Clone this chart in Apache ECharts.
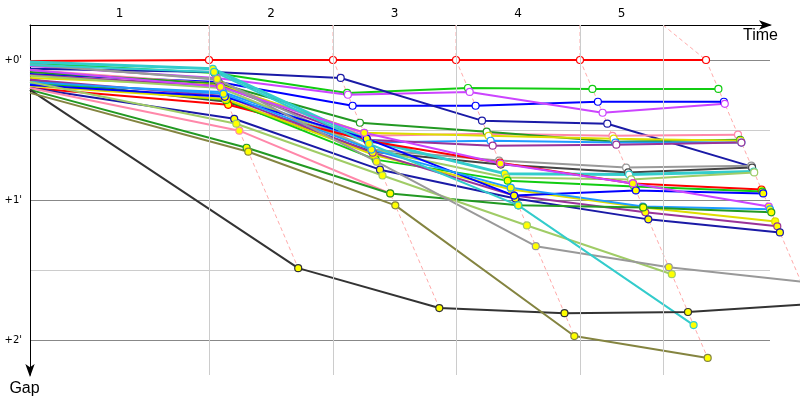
<!DOCTYPE html>
<html><head><meta charset="utf-8">
<script src="https://cdn.jsdelivr.net/npm/echarts@6/dist/echarts.min.js"></script>
<style>html,body{margin:0;padding:0;background:#fff}#c{width:800px;height:400px}</style>
</head><body><div id="c"></div>
<script>
// Lap labels and timing (seconds from start)
const lapLabels = ['1', '2', '3', '4', '5'];
const leaderLapTimes = [179, 303, 426, 550, 676];
const lapLineTops = [179, 303, 426, 550, 633];
const gapTickValues = [0, 60, 120];

// Car line colours
const carColors = [
  '#ff0000', '#11cc11', '#0000ff', '#cc44ff', '#1a1aa6', '#ff88aa', '#229922', '#dddd00',
  '#1e9bff', '#993399', '#999999', '#444444', '#33cccc', '#a0cc66', '#ff0000', '#11cc11',
  '#dddd00', '#993399', '#1a1aa6', '#0000ff', '#cc44ff', '#1e9bff', '#ff88aa', '#229922',
  '#a0cc66', '#999999', '#33cccc', '#333333', '#848440'
];

// Gap to leader (seconds) at start and after each lap
const gapStart = [0.4, 1.3, 6.0, 2.6, 3.8, 4.3, 5.1, 7.7, 10.2, 6.4, 1.7, 8.5, 0.9, 6.8, 12.0, 9.4, 11.1, 8.5, 12.0, 10.7, 4.3, 9.4, 12.0, 12.8, 9.4, 2.1, 2.1, 12.8, 14.1];
const gapLap1  = [0, 5.6, 9.4, 7.7, 5.1, 10.2, 10.2, 10.7, 13.7, 11.1, 8.5, 17.9, 3.8, 12.0, 19.2, 17.1, 16.7, 15.4, 25.2, 15.8, 11.5, 14.5, 30.3, 37.6, 27.3, 8.1, 5.1, 89.2, 39.3];
const gapLap2  = [0, 14.1, 19.6, 14.9, 7.7, 32.5, 26.9, 31.2, 35.4, 34.2, 38.4, 39.3, 34.2, 38.4, 34.6, 42.7, 40.6, 39.7, 47.0, 33.7, 31.2, 38.4, 57.2, 57.2, 49.5, 43.6, 35.9, 106.3, 62.3];
const gapLap3  = [0, 12.0, 19.6, 13.7, 26.0, 31.6, 30.7, 32.5, 34.6, 36.7, 43.1, 44.8, 48.7, 50.4, 44.0, 51.7, 55.5, 58.1, 59.4, 58.1, 44.4, 54.7, null, 62.3, 70.9, 79.8, 62.3, 108.5, 118.3];
const gapLap4  = [0, 12.4, 17.9, 22.6, 27.3, 32.5, 35.0, 33.7, 35.4, 36.3, 46.1, 48.2, 49.1, 51.2, 52.9, 54.2, 63.2, 65.3, 68.3, 55.9, 52.9, 62.8, null, 63.2, 91.8, 88.8, 113.6, 108.0, 127.7];
const gapLap5  = [0, 12.4, 17.9, 18.8, 45.7, 32.0, 34.2, 34.6, 35.4, 35.4, 45.3, 46.1, 47.8, 48.2, 55.5, 56.4, 69.2, 71.3, 73.9, 57.2, 62.8, 64.0, null, 65.3, null, 95.0, null, 104.6, null];

// how many leading cars get an open (white) marker on each lap
const openMarkersPerLap = [1, 6, 11, 14, 14];

const lapGaps = [gapLap1, gapLap2, gapLap3, gapLap4, gapLap5];
const lapMid = lapLineTops.map((t, k) => ((k === 0 ? 0 : lapLineTops[k - 1]) + t) / 2);

const openSets = lapGaps.map((arr, k) => new Set(
  arr.map((g, i) => [g, i]).filter(p => p[0] != null)
     .sort((a, b) => a[0] - b[0]).slice(0, openMarkersPerLap[k]).map(p => p[1])
));

const series = [];
series.push({
  type: 'line', data: [], silent: true, z: 1, xAxisIndex: 0, yAxisIndex: 0,
  markLine: {
    silent: true, symbol: 'none', label: { show: false }, animation: false,
    lineStyle: { color: '#cccccc', type: 'solid', width: 1 },
    emphasis: { disabled: true },
    data: lapLineTops.map(t => ({ xAxis: t }))
  }
});
lapGaps.forEach((arr, k) => {
  const pts = arr.map(g => g == null ? null : [leaderLapTimes[k] + g, g])
                 .filter(Boolean).sort((a, b) => a[1] - b[1]);
  series.push({
    type: 'line', data: [[lapLineTops[k], -15]].concat(pts), symbol: 'none', silent: true,
    xAxisIndex: 1, yAxisIndex: 1,
    lineStyle: { color: '#ffaaaa', type: [4, 3], width: 1 }, z: 2
  });
});
carColors.forEach((c, i) => {
  const data = [{ value: [0, gapStart[i]], symbol: 'none' }];
  lapGaps.forEach((arr, k) => {
    const g = arr[i];
    if (g == null) return;
    data.push({
      value: [leaderLapTimes[k] + g, g],
      itemStyle: { color: openSets[k].has(i) ? '#ffffff' : '#ffff00', borderColor: c, borderWidth: 1.2 }
    });
  });
  series.push({
    type: 'line', name: 'Car ' + (i + 1), data, symbol: 'circle', symbolSize: 7,
    showAllSymbol: true, silent: true, z: 3, xAxisIndex: 1, yAxisIndex: 1,
    lineStyle: { color: c, width: i === 12 ? 3 : 2 }, itemStyle: { color: c }
  });
});

const chart = echarts.init(document.getElementById('c'));
chart.setOption({
  animation: false,
  grid: [
    { left: 30, right: 30, top: 25, bottom: 25 },
    { left: 30, right: 0, top: 25, bottom: 25 }
  ],
  xAxis: [{
    type: 'value', position: 'top', min: 0, max: 740, gridIndex: 0,
    axisLine: { show: true, onZero: false, lineStyle: { color: '#000', width: 1 },
      symbol: ['none', 'arrow'], symbolSize: [7, 13], symbolOffset: [0, 2] },
    axisTick: { show: false }, splitLine: { show: false },
    axisLabel: {
      customValues: lapMid, color: '#000', fontSize: 12, fontFamily: 'DejaVu Sans', margin: 5,
      formatter: v => {
        let best = 0;
        lapMid.forEach((m, k) => { if (Math.abs(m - v) < Math.abs(lapMid[best] - v)) best = k; });
        return lapLabels[best];
      }
    },
    name: 'Time', nameLocation: 'end', nameGap: 8,
    nameTextStyle: { color: '#000', fontSize: 16, fontFamily: 'Liberation Sans', align: 'right', verticalAlign: 'top', padding: [3, 0, 0, 0] }
  }, {
    type: 'value', position: 'top', min: 0, max: 770, gridIndex: 1, show: false
  }],
  yAxis: [{
    type: 'value', inverse: true, min: -15, max: 135, interval: 15, gridIndex: 0,
    axisLine: { show: true, onZero: false, lineStyle: { color: '#000', width: 1 },
      symbol: ['arrow', 'none'], symbolSize: [7, 13], symbolOffset: [-2, 0] },
    axisTick: { show: false },
    axisLabel: {
      color: '#000', fontSize: 10, fontFamily: 'DejaVu Sans', margin: 8,
      formatter: v => gapTickValues.indexOf(v) >= 0 ? '+' + (v / 60) + "'" : ''
    },
    splitLine: { show: true, lineStyle: { color: ['rgba(0,0,0,0)', '#888888', 'rgba(0,0,0,0)', '#cccccc'], width: 1 } },
    name: 'Gap', nameLocation: 'end', nameGap: 6,
    nameTextStyle: { color: '#000', fontSize: 16, fontFamily: 'Liberation Sans', padding: [0, 11, 0, 0] }
  }, {
    type: 'value', inverse: true, min: -15, max: 135, gridIndex: 1, show: false
  }],
  series
});
</script></body></html>
